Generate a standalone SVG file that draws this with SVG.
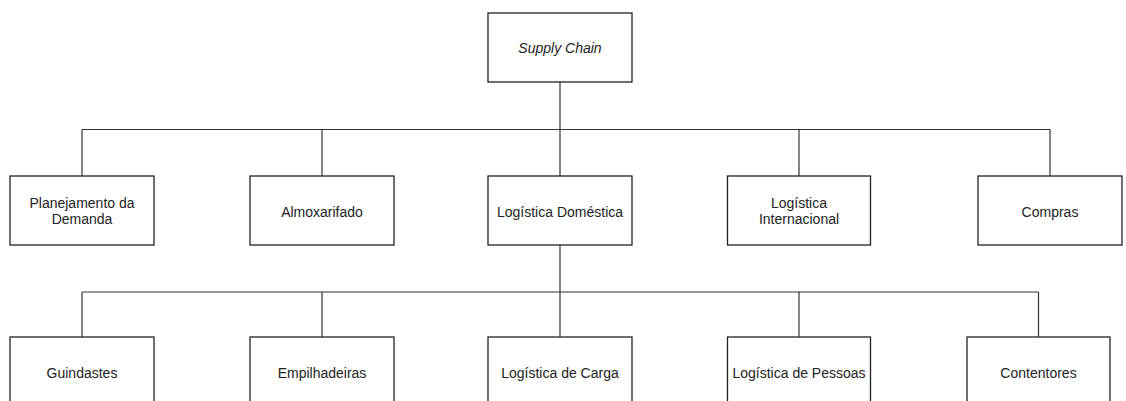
<svg xmlns="http://www.w3.org/2000/svg" width="1126" height="401" viewBox="0 0 1126 401">
<style>
.box{fill:#fff;stroke:#222;stroke-width:1.3}
.ln{fill:none;stroke:#333;stroke-width:1.2}
text{font-family:"Liberation Sans",Arial,sans-serif;font-size:14px;fill:#222;text-anchor:middle}
.it{font-style:italic}
</style>
<rect width="1126" height="401" fill="#fff"/>
<g id="connectors">
<path class="ln" d="M560 82V245M82 129.5H1050M82 129.5V176M322 129.5V176M799 129.5V176M1050 129.5V176"/>
<path class="ln" d="M560 245V337M82 292H1038.5M82 292V337M322 292V337M799 292V337M1038.5 292V337"/>
</g>
<g id="supply-chain"><rect class="box" x="488" y="13" width="144" height="69"/><text class="it" x="560" y="53">Supply Chain</text></g>
<g id="planejamento"><rect class="box" x="10" y="176" width="144" height="69"/><text x="82" y="207.5">Planejamento da</text><text x="82" y="224">Demanda</text></g>
<g id="almoxarifado"><rect class="box" x="250" y="176" width="144" height="69"/><text x="322" y="216.5">Almoxarifado</text></g>
<g id="logistica-domestica"><rect class="box" x="488" y="176" width="144" height="69"/><text x="560" y="216.5">Logística Doméstica</text></g>
<g id="logistica-internacional"><rect class="box" x="727.5" y="176" width="143" height="69"/><text x="799" y="207.5">Logística</text><text x="799" y="224">Internacional</text></g>
<g id="compras"><rect class="box" x="978" y="176" width="144" height="69"/><text x="1050" y="216.5">Compras</text></g>
<g id="guindastes"><rect class="box" x="10" y="337" width="144" height="80"/><text x="82" y="378">Guindastes</text></g>
<g id="empilhadeiras"><rect class="box" x="250" y="337" width="144" height="80"/><text x="322" y="378">Empilhadeiras</text></g>
<g id="logistica-carga"><rect class="box" x="488" y="337" width="144" height="80"/><text x="560" y="378">Logística de Carga</text></g>
<g id="logistica-pessoas"><rect class="box" x="727.5" y="337" width="143" height="80"/><text x="799" y="378">Logística de Pessoas</text></g>
<g id="contentores"><rect class="box" x="967" y="337" width="143" height="80"/><text x="1038.5" y="378">Contentores</text></g>
</svg>
